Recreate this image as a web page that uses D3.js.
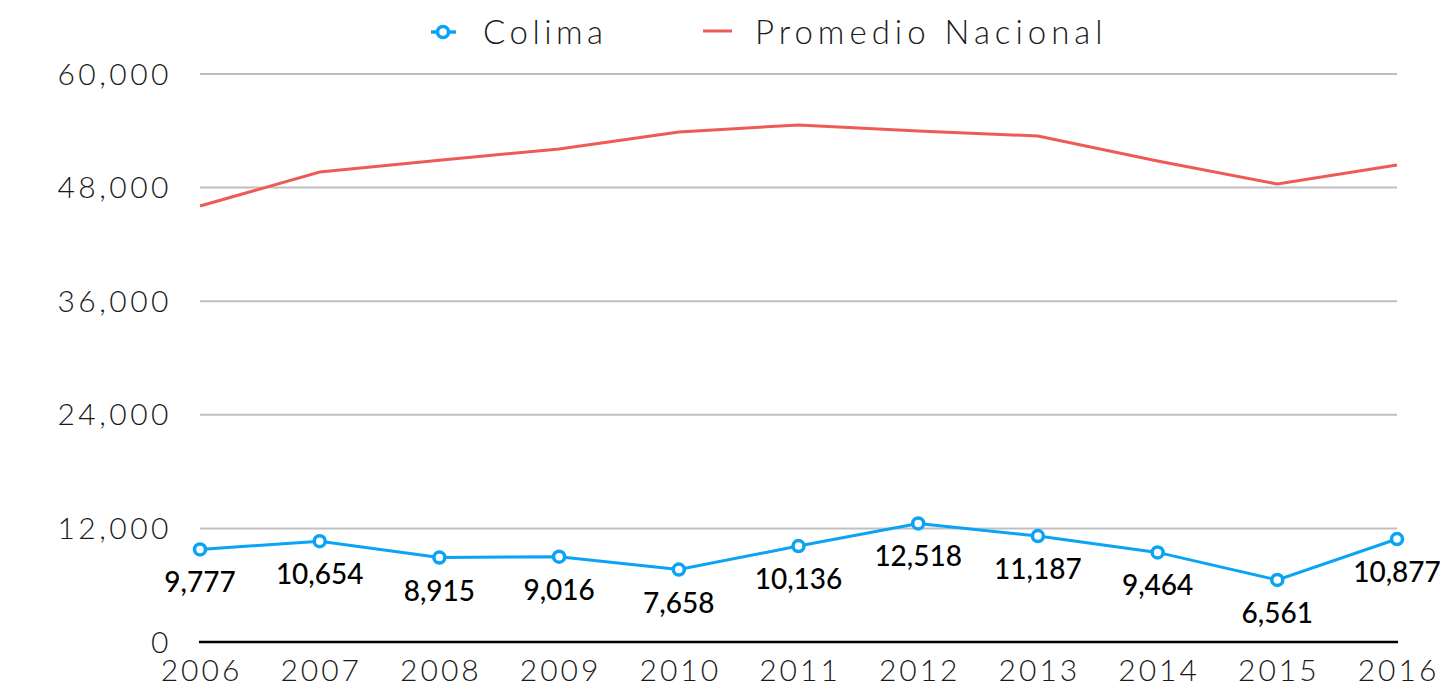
<!DOCTYPE html>
<html>
<head>
<meta charset="utf-8">
<script src="https://cdn.jsdelivr.net/npm/d3@7"></script>
<style>
  body { margin: 0; background: #fff; }
  .axis-label { font-family: Lato, "Open Sans", sans-serif; font-weight: 300; fill: #1a1a1a; }
  .data-label { font-family: Lato, "Open Sans", sans-serif; font-weight: 500; fill: #000; }
</style>
</head>
<body>
<svg id="chart" width="1450" height="692"></svg>
<script>
// years on the x axis
var years = ["2006", "2007", "2008", "2009", "2010", "2011", "2012", "2013", "2014", "2015", "2016"];

// Colima values (labelled)
var colima = [9777, 10654, 8915, 9016, 7658, 10136, 12518, 11187, 9464, 6561, 10877];

// national average
var promedio = [46050, 49650, 50900, 52080, 53870, 54620, 53980, 53450, 50810, 48380, 50380];

var yTicks = [0, 12000, 24000, 36000, 48000, 60000];

var blue = "#0aa3f5";
var red = "#ee5b56";

var svg = d3.select("#chart");

var x = d3.scalePoint().domain(years).range([200, 1397]);
var y = d3.scaleLinear().domain([0, 60000]).range([642, 74]);

// gridlines
svg.append("g").selectAll("line")
    .data(yTicks.filter(function(d){ return d > 0; }))
    .enter().append("line")
    .attr("x1", 200).attr("x2", 1397)
    .attr("y1", function(d){ return y(d); })
    .attr("y2", function(d){ return y(d); })
    .attr("stroke", "#bfbfbf").attr("stroke-width", 2);

// y labels
svg.append("g").selectAll("text")
    .data(yTicks)
    .enter().append("text")
    .attr("class", "axis-label")
    .attr("x", 172)
    .attr("y", function(d){ return y(d); })
    .attr("dy", "0.35em")
    .attr("text-anchor", "end")
    .style("font-size", "30px")
    .style("letter-spacing", "3.5px")
    .text(function(d){ return d3.format(",")(d); });

// x axis line
svg.append("line")
    .attr("x1", 199).attr("x2", 1398)
    .attr("y1", y(0)).attr("y2", y(0))
    .attr("stroke", "#000").attr("stroke-width", 2.5);

// x labels
svg.append("g").selectAll("text")
    .data(years)
    .enter().append("text")
    .attr("class", "axis-label")
    .attr("x", function(d){ return x(d) + 1.5; })
    .attr("y", 681)
    .attr("text-anchor", "middle")
    .style("font-size", "30px")
    .style("letter-spacing", "3px")
    .text(function(d){ return d; });

var line = d3.line()
    .x(function(d, i){ return x(years[i]); })
    .y(function(d){ return y(d); });

// national average line
svg.append("path")
    .datum(promedio)
    .attr("d", line)
    .attr("fill", "none")
    .attr("stroke", red)
    .attr("stroke-width", 3);

// Colima line
svg.append("path")
    .datum(colima)
    .attr("d", line)
    .attr("fill", "none")
    .attr("stroke", blue)
    .attr("stroke-width", 3);

svg.append("g").selectAll("circle")
    .data(colima)
    .enter().append("circle")
    .attr("cx", function(d, i){ return x(years[i]); })
    .attr("cy", function(d){ return y(d); })
    .attr("r", 5.5)
    .attr("fill", "#fff")
    .attr("stroke", blue)
    .attr("stroke-width", 3.5);

// data labels under the points
svg.append("g").selectAll("text")
    .data(colima)
    .enter().append("text")
    .attr("class", "data-label")
    .attr("x", function(d, i){ return x(years[i]); })
    .attr("y", function(d){ return y(d) + 43; })
    .attr("text-anchor", "middle")
    .style("font-size", "28px")
    .text(function(d){ return d3.format(",")(d); });

// legend
var legend = svg.append("g");
legend.append("line")
    .attr("x1", 431).attr("x2", 456).attr("y1", 32).attr("y2", 32)
    .attr("stroke", blue).attr("stroke-width", 3.5);
legend.append("circle")
    .attr("cx", 443).attr("cy", 32).attr("r", 5.5)
    .attr("fill", "#fff").attr("stroke", blue).attr("stroke-width", 3.5);
legend.append("text")
    .attr("class", "axis-label")
    .attr("x", 483).attr("y", 32).attr("dy", "0.35em")
    .style("font-size", "33px")
    .style("letter-spacing", "4.5px")
    .text("Colima");
legend.append("line")
    .attr("x1", 703).attr("x2", 732).attr("y1", 31).attr("y2", 31)
    .attr("stroke", red).attr("stroke-width", 3);
legend.append("text")
    .attr("class", "axis-label")
    .attr("x", 755).attr("y", 32).attr("dy", "0.35em")
    .style("font-size", "33px")
    .style("letter-spacing", "5px")
    .text("Promedio Nacional");
</script>
</body>
</html>
